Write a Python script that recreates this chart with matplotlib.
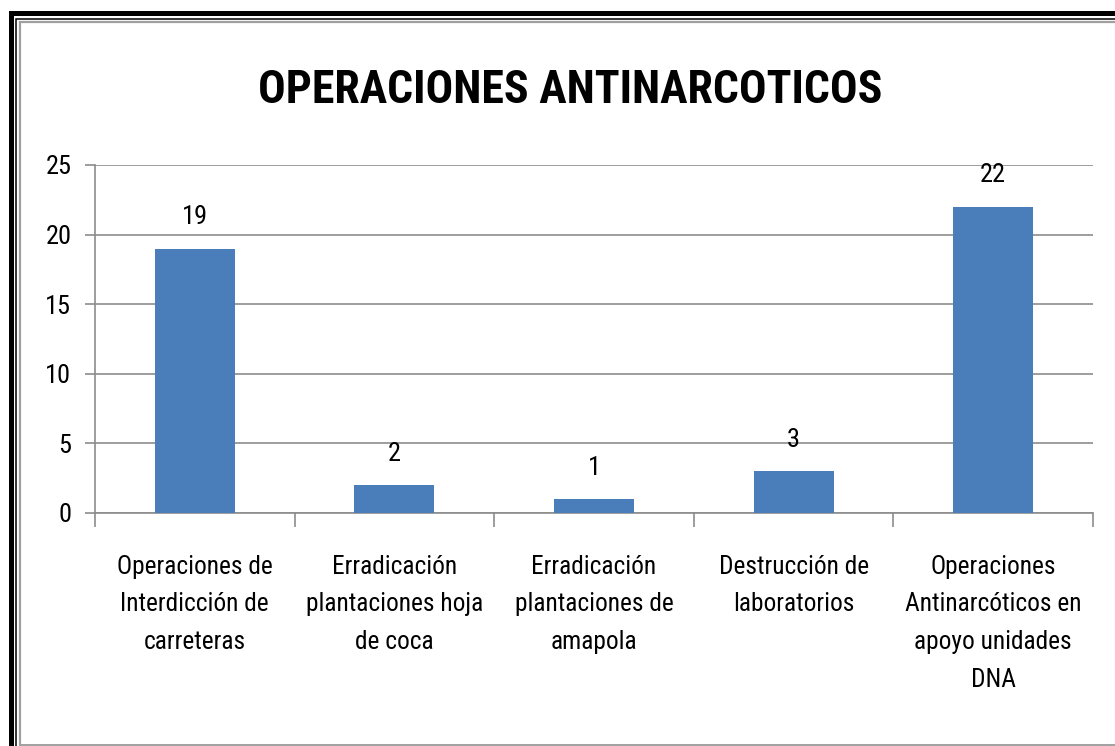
import matplotlib
matplotlib.use("Agg")
import matplotlib.pyplot as plt
from matplotlib import font_manager
from matplotlib.lines import Line2D

# prefer a narrow face like the original Calibri look, if one is installed
names = {f.name for f in font_manager.fontManager.ttflist}
family = [n for n in ["Liberation Sans Narrow", "Roboto Condensed", "Lato"] if n in names]
plt.rcParams["font.family"] = family + ["DejaVu Sans"]

TITLE = "OPERACIONES ANTINARCOTICOS"
CATEGORIES = [
    "Operaciones de\nInterdicción de\ncarreteras",
    "Erradicación\nplantaciones hoja\nde coca",
    "Erradicación\nplantaciones de\namapola",
    "Destrucción de\nlaboratorios",
    "Operaciones\nAntinarcóticos en\napoyo unidades\nDNA",
]
VALUES = [19, 2, 1, 3, 22]
YTICKS = [0, 5, 10, 15, 20, 25]

BAR = "#4a7ebb"
GRID = "#8c8c8c"

fig = plt.figure(figsize=(11.15, 7.46), dpi=100)
W, H = 1115, 746


def frame(x0, y0, lw, color):
    # left + top edges of the double frame (right/bottom are cropped away)
    xs = [x0 / W, x0 / W, 1.2]
    ys = [-0.1, 1 - y0 / H, 1 - y0 / H]
    fig.add_artist(Line2D(xs, ys, transform=fig.transFigure, color=color,
                          lw=lw, solid_joinstyle="miter"))


frame(10.5, 13, 3.6, "black")
frame(16, 19, 1.1, "black")
frame(19.5, 22, 1.6, "#a0a0a0")
fig.add_artist(Line2D([19.5 / W, 1.2], [1 - 745 / H] * 2, transform=fig.transFigure,
                      color="#a0a0a0", lw=1.4))

ax = fig.add_axes([95 / W, 1 - 513 / H, (1093 - 95) / W, (513 - 165) / H])
x = list(range(len(VALUES)))
ax.bar(x, VALUES, width=0.4, color=BAR, zorder=3)
for xi, v in zip(x, VALUES):
    ax.annotate(str(v), (xi, v), xytext=(0, 14), textcoords="offset points",
                ha="center", va="bottom", fontsize=19, color="black")

ax.set_xlim(-0.5, len(VALUES) - 0.5)
ax.set_ylim(0, 25)
ax.set_yticks(YTICKS)
ax.set_yticklabels([str(t) for t in YTICKS], fontsize=19)
ax.yaxis.grid(True, color=GRID, lw=1.2, zorder=0)
ax.tick_params(axis="y", length=7, width=1.2, color=GRID, pad=10)

ax.set_xticks([i + 0.5 for i in range(-1, len(VALUES))])
ax.set_xticklabels([])
ax.tick_params(axis="x", length=10, width=1.2, color=GRID)
ax.set_xticks(x, minor=True)
ax.set_xticklabels(CATEGORIES, minor=True, fontsize=18.3, linespacing=1.72)
ax.tick_params(axis="x", which="minor", length=0, pad=30)

for s in ["top", "right"]:
    ax.spines[s].set_visible(False)
for s in ["left", "bottom"]:
    ax.spines[s].set_color(GRID)
    ax.spines[s].set_linewidth(1.2)

fig.text(570 / W, 1 - 90 / H, TITLE, ha="center", va="center",
         fontsize=33, fontweight="bold")

fig.savefig("out.png", dpi=100)
